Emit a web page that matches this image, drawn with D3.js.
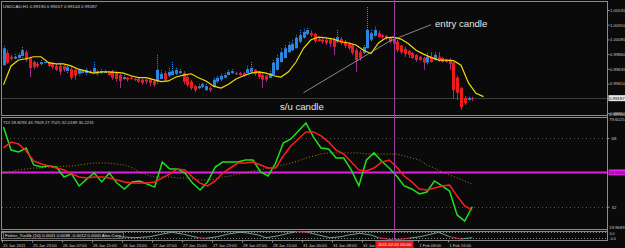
<!DOCTYPE html>
<html>
<head>
<meta charset="utf-8">
<script src="https://cdn.jsdelivr.net/npm/d3@7"></script>
<style>
  body { margin: 0; background: #0a0a0a; }
  svg { display: block; font-family: "Liberation Sans", Arial, sans-serif; }
</style>
</head>
<body>
<svg id="chart" width="625" height="248"></svg>
<script>
// USDCAD H1 candles
var opens = [
  .9969,.9988,.9982,.9979,.9980,.9983,.9989,.9980,.9974,.9971,
  .9971,.9973,.9973,.9971,.9968,.9968,.9968,.9960,.9963,.9962,
  .9956,.9957,.9957,.9960,.9957,.9960,.9957,.9957,.9959,.9959,
  .9957,.9954,.9948,.9950,.9950,.9948,.9948,.9947,.9947,.9947,
  .9945,.9944,.9948,.9957,.9953,.9954,.9956,.9957,.9957,.9951,
  .9944,.9937,.9934,.9936,.9931,.9934,.9936,.9944,.9947,.9950,
  .9954,.9957,.9957,.9957,.9957,.9957,.9959,.9962,.9959,.9954,
  .9953,.9950,.9954,.9962,.9974,.9980,.9989,.9992,.9995,1.0005,
  1.0011,1.0017,1.0018,1.0017,1.0009,1.0008,1.0008,1.0008,1.0008,1.0005,
  1.0009,1.0005,1.0002,1.0000,.9992,.9989,.9988,.9995,1.0008,1.0014,
  1.0018,1.0015,1.0014,1.0011,1.0009,1.0005,.9999,.9994,.9991,.9988,
  .9985,.9982,.9980,.9973,.9982,.9977,.9982,.9980,.9977,.9977,
  .9973,.9950,.9934,.9919,.9916,.99190];
var closes = [
  .9995,.9973,.9979,.9982,.9985,.9992,.9977,.9965,.9966,.9968,
  .9974,.9974,.9968,.9966,.9962,.9959,.9962,.9966,.9950,.9953,
  .9962,.9960,.9962,.9957,.9965,.9956,.9960,.9959,.9954,.9950,
  .9948,.9945,.9951,.9947,.9948,.9947,.9944,.9942,.9944,.9942,
  .9939,.9962,.9956,.9947,.9959,.9960,.9962,.9960,.9944,.9939,
  .9934,.9931,.9937,.9940,.9937,.9931,.9947,.9950,.9953,.9954,
  .9959,.9960,.9956,.9954,.9954,.9963,.9965,.9956,.9951,.9947,
  .9947,.9957,.9973,.9980,.9989,.9995,1.0000,1.0002,1.0011,1.0015,
  1.0020,1.0023,1.0015,1.0006,1.0006,1.0005,1.0003,1.0002,.9997,1.0012,
  1.0003,.9999,.9995,.9988,.9977,.9980,.9997,1.0023,1.0018,1.0023,
  1.0012,1.0012,1.0011,1.0005,1.0002,.9992,.9989,.9986,.9985,.9980,
  .9977,.9977,.9973,.9982,.9974,.9985,.9977,.9974,.9974,.9971,
  .9931,.9927,.9905,.9911,.9919,.99187];
var highs = [
  .9999,.9992,.9985,.9986,.9988,.9997,.9992,.9982,.9976,.9974,
  .9977,.9977,.9974,.9973,.9971,.9973,.9969,.9968,.9966,.9965,
  .9963,.9962,.9965,.9962,.9974,.9962,.9963,.9962,.9960,.9962,
  .9959,.9956,.9954,.9951,.9953,.9950,.9950,.9948,.9948,.9950,
  .9947,.9985,.9962,.9960,.9965,.9974,.9965,.9963,.9960,.9954,
  .9947,.9939,.9940,.9942,.9940,.9937,.9950,.9953,.9956,.9957,
  .9962,.9963,.9959,.9959,.9959,.9968,.9974,.9963,.9960,.9957,
  .9954,.9960,.9977,.9985,.9995,1.0000,1.0005,1.0008,1.0015,1.0023,
  1.0025,1.0026,1.0022,1.0018,1.0011,1.0011,1.0009,1.0011,1.0011,1.0023,
  1.0012,1.0008,1.0005,1.0002,.9995,.9992,1.0000,1.0058,1.0023,1.0028,
  1.0022,1.0017,1.0015,1.0012,1.0012,1.0008,1.0000,.9997,.9992,.9989,
  .9986,.9983,.9982,.9988,.9989,.9989,.9989,.9982,.9979,.9980,
  .9974,.9953,.9936,.9922,.9921,.99207];
var lows = [
  .9968,.9971,.9976,.9977,.9979,.9980,.9974,.9951,.9963,.9965,
  .9969,.9971,.9966,.9963,.9960,.9954,.9959,.9957,.9947,.9947,
  .9953,.9956,.9954,.9956,.9956,.9953,.9956,.9956,.9953,.9947,
  .9944,.9934,.9947,.9944,.9947,.9945,.9942,.9939,.9940,.9937,
  .9936,.9940,.9947,.9944,.9951,.9953,.9954,.9956,.9940,.9936,
  .9931,.9928,.9931,.9933,.9930,.9928,.9934,.9942,.9945,.9948,
  .9953,.9956,.9954,.9953,.9951,.9956,.9957,.9953,.9948,.9934,
  .9944,.9948,.9953,.9960,.9973,.9979,.9988,.9991,.9994,1.0003,
  1.0009,1.0014,1.0012,1.0003,1.0005,1.0002,1.0000,.9997,.9985,1.0003,
  1.0000,.9995,.9992,.9985,.9959,.9976,.9985,.9994,1.0006,1.0012,
  1.0011,1.0009,1.0008,1.0002,1.0000,.9989,.9986,.9982,.9980,.9979,
  .9974,.9976,.9962,.9969,.9973,.9976,.9974,.9973,.9973,.9962,
  .9918,.9916,.9901,.9908,.9914,.99144];

// moving average, one value every 2 bars
var maVals = [
  .9939,.9968,.9977,.9979,.9982,.9982,.9973,.9971,.9971,.9968,
  .9963,.9960,.9957,.9959,.9959,.9958,.9957,.9953,.9950,.9950,
  .9947,.9944,.9945,.9951,.9954,.9956,.9950,.9945,.9937,.9934,
  .9940,.9948,.9953,.9957,.9959,.9957,.9953,.9951,.9959,.9974,
  .9995,1.0008,1.0012,1.0011,1.0009,1.0005,1.0003,1.0000,.9992,.9987,
  1.0003,1.0011,1.0012,1.0009,1.0002,.9992,.9986,.9981,.9977,.9977,
  .9976,.9969,.9942,.9926,.9921];

// TDI lines, sampled evenly across the bars
var tdiPrice = [
  73.8,61.7,60.7,62.8,53.9,52.8,53.3,52.8,47.6,49.2,
  42.9,46.5,49.7,45.0,49.7,44.4,41.3,45.0,45.5,43.9,
  42.3,55.4,51.8,51.8,49.7,44.4,40.8,45.0,52.8,55.4,
  55.4,55.4,56.5,56.5,50.2,48.1,54.9,65.4,67.5,71.7,
  75.9,68.5,62.8,62.3,57.5,57.5,51.3,42.9,56.5,60.2,
  56.0,52.3,48.1,42.9,41.3,38.7,39.7,45.5,42.9,40.2,
  27.7,24.5,32.0];
var tdiSignal = [
  62.8,65.9,64.9,61.2,56.0,54.4,53.3,52.3,51.3,49.2,
  47.6,47.1,47.6,47.6,47.1,46.0,45.0,44.4,44.4,44.4,
  45.0,47.1,49.2,51.8,51.3,47.6,44.4,42.9,45.5,49.7,
  52.3,54.9,54.9,55.4,53.9,52.3,52.3,58.6,63.8,67.5,
  71.2,71.2,69.1,65.9,61.7,59.6,55.4,51.3,50.7,52.3,
  55.4,56.5,52.8,48.1,45.0,41.3,40.8,41.8,42.9,43.4,
  37.6,32.4,30.2];
var tdiBase = [
  49.7,50.2,51.3,51.8,52.3,52.3,52.8,52.8,53.3,53.3,
  53.9,54.4,54.9,54.9,54.9,54.4,53.9,52.3,50.2,48.6,
  47.6,47.6,47.6,47.1,47.1,46.5,46.0,46.0,46.5,47.6,
  48.1,49.2,49.7,50.7,51.3,52.3,52.8,53.9,54.9,56.0,
  57.5,58.6,59.6,60.2,60.2,60.2,60.2,60.2,59.6,59.6,
  59.6,59.6,59.6,58.6,57.5,56.5,53.9,52.3,50.2,48.6,
  47.1,45.5,43.8];
var tdiLevel = 50;
var tdiGrid = [68, 32];
var tdiEnds = [79.6025, 19.9689];

// little oscillator window under the TDI
var miniBars = [31,35,39,42,45,48,52,54,57,60,63,65,68,70,73,76,78,81,84,87,90,92,95,98,100,104,108,111,115,116,119,122,125];
var miniVals = [-0.16,-0.38,-0.16,0.38,0.82,0.38,-0.38,-0.51,-0.16,0.44,0.82,0.67,0.22,-0.38,0,0.6,0.96,0.82,0.22,-0.38,-0.16,0.22,0.6,0.22,-0.38,-0.89,-0.51,-0.16,0.6,0.82,-0.16,-0.67,-0.38];
var miniHot = [0,0,0,0,0,0,1,1,0,0,0,0,0,0,0,0,1,1,0,0,0,0,0,0,1,1,1,0,0,0,1,1,0];

var priceTicks = [0.98960, 0.99185, 0.99410, 0.99635, 0.99860, 1.00085, 1.00310, 1.00535];
var timeLabels = ["25 Jan 2011","25 Jan 23:00","26 Jan 07:00","26 Jan 15:00","26 Jan 23:00","27 Jan 07:00",
  "27 Jan 15:00","27 Jan 23:00","28 Jan 07:00","28 Jan 15:00","31 Jan 00:00","31 Jan 08:00","31 Jan 16:00",
  "1 Feb 08:00","1 Feb 16:00"];
var timeBars = [0,8,16,24,32,40,48,56,64,72,80,88,96,111,119];
var crossBar = 104, crossLabel = "2011.02.01 00:00";

var svg = d3.select("#chart");
var right = 607.5;
var axisFont = 4.3;

var x = d3.scaleLinear().domain([0, 125]).range([3.5, 472.25]);
var yP = d3.scaleLinear().domain([0.9896, 1.00535]).range([113, 10]);
var yT = d3.scaleLinear().domain([19.9689, 79.6025]).range([229.7, 115.9]);
var tx = d3.scaleLinear().domain([0, tdiPrice.length - 1]).range([x(0), x(125)]);
var yM = d3.scaleLinear().domain([-1, 1]).range([240.5, 231.5]);

svg.append("rect").attr("width", 625).attr("height", 248).attr("fill", "#0a0a0a");

var defs = svg.append("defs");
defs.append("clipPath").attr("id", "clipMain").append("rect").attr("x", 2).attr("y", 2).attr("width", 605).attr("height", 113);
defs.append("clipPath").attr("id", "clipTdi").append("rect").attr("x", 2).attr("y", 118).attr("width", 605).attr("height", 111);

// panel frames
[[1.5, 115.5], [117.5, 229.5], [231.5, 240.5]].forEach(function (p) {
  svg.append("rect").attr("x", 1.5).attr("y", p[0]).attr("width", right - 1.5).attr("height", p[1] - p[0])
    .attr("fill", "none").attr("stroke", "#8c8c8c").attr("stroke-width", 1);
});

// ---- main window
var main = svg.append("g").attr("clip-path", "url(#clipMain)");

main.append("line").attr("x1", 2).attr("x2", right).attr("y1", Math.round(yP(closes[125])) + 0.5).attr("y2", Math.round(yP(closes[125])) + 0.5)
  .attr("stroke", "#3c3c3c");

var bars = d3.range(opens.length);
function isUp(i) { return closes[i] >= opens[i]; }

main.selectAll("line.wick").data(bars).join("line")
  .attr("class", "wick")
  .attr("x1", function (i) { return Math.round(x(i)) + 0.5; })
  .attr("x2", function (i) { return Math.round(x(i)) + 0.5; })
  .attr("y1", function (i) { return yP(highs[i]); })
  .attr("y2", function (i) { return yP(lows[i]); })
  .attr("stroke", function (i) { return isUp(i) ? "#2c8ff0" : "#9a2f93"; })
  .attr("stroke-dasharray", function (i) { return isUp(i) ? "1,1" : null; });

main.selectAll("rect.body").data(bars).join("rect")
  .attr("class", "body")
  .attr("x", function (i) { return Math.round(x(i)) - 1; })
  .attr("width", 3)
  .attr("y", function (i) { return Math.min(yP(opens[i]), yP(closes[i])); })
  .attr("height", function (i) { return Math.max(1, Math.abs(yP(opens[i]) - yP(closes[i]))); })
  .attr("fill", function (i) { return isUp(i) ? "#2a86e0" : "#f01c1c"; });

main.append("path").datum(maVals)
  .attr("fill", "none").attr("stroke", "#f2dc00").attr("stroke-width", 1.2)
  .attr("d", d3.line().x(function (d, i) { return x(i * 2); }).y(function (d) { return yP(d); }));

// annotations
main.append("path").datum([[80, 0.9927], [103, 1.0006], [114, 1.0031]])
  .attr("fill", "none").attr("stroke", "#a8a8a8").attr("stroke-width", 0.8)
  .attr("d", d3.line().x(function (d) { return x(d[0]); }).y(function (d) { return yP(d[1]); }));
svg.append("text").attr("x", 280).attr("y", 110).attr("font-size", 9.6).attr("fill", "#e6e6e6").text("s/u candle");
svg.append("text").attr("x", 435).attr("y", 27).attr("font-size", 9.6).attr("fill", "#e6e6e6").text("entry candle");

svg.append("text").attr("x", 3).attr("y", 7.5).attr("font-size", 4.4).attr("fill", "#d0d0d0")
  .attr("textLength", 94).attr("lengthAdjust", "spacingAndGlyphs")
  .text("USDCAD,H1  0.99190 0.99207 0.99144 0.99187");

// price axis
var pAxis = svg.append("g").attr("transform", "translate(" + right + ",0)")
  .call(d3.axisRight(yP).tickValues(priceTicks).tickSize(2).tickPadding(0.5).tickFormat(d3.format(".5f")));
pAxis.select(".domain").remove();
pAxis.selectAll("line").attr("stroke", "#8c8c8c");
pAxis.selectAll("text").attr("fill", "#c8c8c8").attr("font-size", axisFont).attr("font-family", "Liberation Sans, Arial, sans-serif");

var bidY = yP(closes[125]);
svg.append("rect").attr("x", 608.5).attr("y", bidY - 3).attr("width", 16.5).attr("height", 6).attr("fill", "#e8e8e8");
svg.append("text").attr("x", 609).attr("y", bidY + 1.6).attr("font-size", axisFont).attr("fill", "#000").text(d3.format(".5f")(closes[125]));

// ---- TDI window
var tdi = svg.append("g").attr("clip-path", "url(#clipTdi)");
tdi.selectAll("line.grid").data(tdiGrid).join("line")
  .attr("x1", 2).attr("x2", right)
  .attr("y1", function (d) { return Math.round(yT(d)) + 0.5; })
  .attr("y2", function (d) { return Math.round(yT(d)) + 0.5; })
  .attr("stroke", "#555").attr("stroke-dasharray", "1,3");

tdi.append("line").attr("x1", 2).attr("x2", right).attr("y1", yT(tdiLevel)).attr("y2", yT(tdiLevel))
  .attr("stroke", "#e020e0").attr("stroke-width", 2);

var tline = d3.line().x(function (d, i) { return tx(i); }).y(function (d) { return yT(d); });
tdi.append("path").datum(tdiBase).attr("fill", "none").attr("stroke", "#9a8416")
  .attr("stroke-dasharray", "1,2").attr("d", tline);
tdi.append("path").datum(tdiPrice).attr("fill", "none").attr("stroke", "#1ee01e").attr("stroke-width", 1.5).attr("d", tline);
tdi.append("path").datum(tdiSignal).attr("fill", "none").attr("stroke", "#ff1e1e").attr("stroke-width", 1.5).attr("d", tline);

svg.append("text").attr("x", 3).attr("y", 124).attr("font-size", 4.3).attr("fill", "#d0d0d0")
  .attr("textLength", 91).attr("lengthAdjust", "spacingAndGlyphs")
  .text("TDI 59.8293 43.7909 27.7525 32.0189 30.2231");

var tAxis = svg.append("g").attr("transform", "translate(" + right + ",0)")
  .call(d3.axisRight(yT).tickValues(tdiGrid).tickSize(2).tickPadding(2).tickFormat(d3.format("d")));
tAxis.select(".domain").remove();
tAxis.selectAll("line").attr("stroke", "#8c8c8c");
tAxis.selectAll("text").attr("fill", "#c8c8c8").attr("font-size", axisFont).attr("font-family", "Liberation Sans, Arial, sans-serif");
svg.append("text").attr("x", 609).attr("y", yT(tdiEnds[0]) + 5.5).attr("font-size", axisFont).attr("fill", "#c8c8c8").text(tdiEnds[0]);
svg.append("text").attr("x", 609).attr("y", yT(tdiEnds[1]) - 1).attr("font-size", axisFont).attr("fill", "#c8c8c8").text(tdiEnds[1]);
svg.append("text").attr("x", 609).attr("y", 115.5).attr("font-size", axisFont).attr("fill", "#c8c8c8").text(d3.format(".5f")(priceTicks[0]));
svg.append("rect").attr("x", 608.5).attr("y", yT(tdiLevel) - 3).attr("width", 16.5).attr("height", 6).attr("fill", "#e020e0");
svg.append("text").attr("x", 609).attr("y", yT(tdiLevel) + 1.6).attr("font-size", axisFont).attr("fill", "#300030").text(d3.format(".4f")(tdiLevel));

// ---- mini oscillator window
[232.5, 238.5].forEach(function (yy) {
  svg.append("line").attr("x1", 2).attr("x2", right).attr("y1", yy).attr("y2", yy)
    .attr("stroke", "#8a8a8a").attr("stroke-dasharray", "1,2");
});
svg.append("rect").attr("x", 3.5).attr("y", 232.5).attr("width", 120).attr("height", 6)
  .attr("fill", "#111").attr("stroke", "#9a9a9a").attr("stroke-width", 0.6);
svg.append("text").attr("x", 5).attr("y", 237.3).attr("font-size", 4.3).attr("fill", "#e0e0e0")
  .attr("textLength", 116).attr("lengthAdjust", "spacingAndGlyphs")
  .text("Fisher_Yur4ik (10) 0.0041 0.0038 -0.0012 0.0000 Alex.Corp");
var miniPts = miniBars.map(function (b, i) { return [x(b), yM(miniVals[i])]; });
svg.selectAll("line.mini").data(d3.range(miniPts.length - 1)).join("line")
  .attr("class", "mini")
  .attr("x1", function (i) { return miniPts[i][0]; }).attr("y1", function (i) { return miniPts[i][1]; })
  .attr("x2", function (i) { return miniPts[i + 1][0]; }).attr("y2", function (i) { return miniPts[i + 1][1]; })
  .attr("stroke", function (i) { return miniHot[i] && miniHot[i + 1] ? "#e0304a" : "#6fa39a"; })
  .attr("stroke-width", 1);
svg.append("text").attr("x", 609.5).attr("y", 235).attr("font-size", 3.6).attr("fill", "#c8c8c8").text("0.0");
svg.append("text").attr("x", 609.5).attr("y", 239.5).attr("font-size", 3.6).attr("fill", "#c8c8c8").text("-0.0");

// right frame line over everything
svg.append("line").attr("x1", right).attr("x2", right).attr("y1", 1).attr("y2", 241).attr("stroke", "#8c8c8c");

// ---- time axis
var tg = svg.append("g");
tg.selectAll("line").data(timeBars).join("line")
  .attr("x1", function (b) { return Math.round(x(b) - 1.5) + 0.5; })
  .attr("x2", function (b) { return Math.round(x(b) - 1.5) + 0.5; })
  .attr("y1", 240.5).attr("y2", 242.5).attr("stroke", "#8c8c8c");
tg.selectAll("text").data(timeBars).join("text")
  .attr("x", function (b) { return x(b) - 0.5; })
  .attr("y", 246.5)
  .attr("font-size", 4.1).attr("fill", "#c8c8c8")
  .text(function (b, i) { return timeLabels[i]; });

// crosshair and its time tag (covers the label underneath, as in the terminal)
var cx = Math.round(x(crossBar)) + 0.5;
svg.append("line").attr("x1", cx).attr("x2", cx).attr("y1", 0).attr("y2", 241).attr("stroke", "#9c3c9c");
svg.append("rect").attr("x", cx - 19).attr("y", 241).attr("width", 38).attr("height", 7).attr("fill", "#e81414");
svg.append("text").attr("x", cx).attr("y", 246.2).attr("text-anchor", "middle").attr("font-size", 4.3).attr("fill", "#fff").text(crossLabel);
</script>
</body>
</html>
